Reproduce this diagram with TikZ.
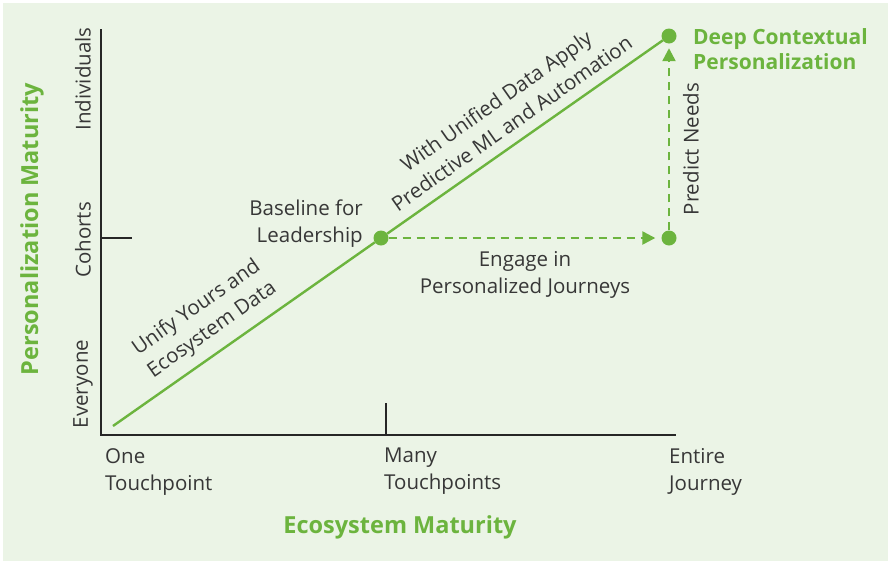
\documentclass[tikz,border=0pt]{standalone}
\usepackage{fontspec}
\setmainfont{Open Sans}
\usetikzlibrary{arrows.meta}
\definecolor{bggreen}{RGB}{235,244,230}
\definecolor{leaf}{RGB}{108,180,62}
\definecolor{txt}{RGB}{55,55,55}
\tikzset{
  lbl/.style={text=txt, font=\fontsize{20.5}{27}\selectfont, inner sep=0pt},
  ttl/.style={text=leaf, font=\fontsize{23.5}{28}\selectfont\bfseries, inner sep=0pt},
  axis/.style={draw=black!85, line width=1.3pt},
  dot/.style={circle, fill=leaf, minimum size=15pt, inner sep=0pt},
  gline/.style={draw=leaf, line width=2.4pt},
  dline/.style={draw=leaf, line width=2.4pt, dash pattern=on 8pt off 6pt, -{Triangle[length=13pt,width=13pt]}}
}
\begin{document}
\begin{tikzpicture}[x=1pt,y=-1pt]
\useasboundingbox (0,0) rectangle (891,563);
\fill[bggreen] (3,3) rectangle (888,561);
% axes
\coordinate (o) at (101,435);
\coordinate (ytop) at (101,29);
\coordinate (xend) at (676,435);
\draw[axis] (ytop) -- (o) -- (xend);
\coordinate (ct1) at (101,238); \coordinate (ct2) at (132,238);
\draw[axis] (ct1) -- (ct2);
\coordinate (mt1) at (386,403); \coordinate (mt2) at (386,435);
\draw[axis] (mt1) -- (mt2);
% points
\coordinate (start) at (113,426);
\node[dot] (base) at (381,238) {};
\node[dot] (mid) at (669,238) {};
\node[dot] (top) at (669,36) {};
\draw[gline] (start) -- (base) -- (top);
\draw[dline, shorten >=6pt] (base) -- (mid.west);
\draw[dline, shorten >=4.5pt] (mid) -- (top.south);
% labels along the line
\path (start) -- (top)
  node[lbl, align=center, sloped, anchor=south, pos=0.203, yshift=11pt] (uni) {Unify Yours and\\Ecosystem Data}
  node[lbl, align=center, sloped, anchor=south, pos=0.745, yshift=11pt] (wud) {With Unified Data Apply\\Predictive ML and Automation};
% y-axis labels
\node[lbl, rotate=90] (ind) at (83,79) {Individuals};
\node[lbl, rotate=90] (coh) at (83,240) {Cohorts};
\node[lbl, rotate=90] (eve) at (83,384) {Everyone};
\node[ttl, rotate=90] (pm) at (32,229) {Personalization Maturity};
% x-axis labels
\node[lbl, align=left, anchor=north west] (one) at (105,448) {One\\Touchpoint};
\node[lbl, align=left, anchor=north west] (many) at (384,448) {Many\\Touchpoints};
\node[lbl, align=left, anchor=north west] (ent) at (669,448) {Entire\\Journey};
\node[ttl] (em) at (400,527) {Ecosystem Maturity};
% other labels
\node[lbl, align=right, anchor=east] (bl) at (363,224) {Baseline for\\Leadership};
\node[lbl, align=center] (eng) at (525,275) {Engage in\\Personalized Journeys};
\node[lbl, rotate=90] (pn) at (691,149) {Predict Needs};
\node[ttl, font=\fontsize{21}{25}\selectfont\bfseries, align=left, anchor=west] (dcp) at (693,49) {Deep Contextual\\Personalization};
\end{tikzpicture}
\end{document}
